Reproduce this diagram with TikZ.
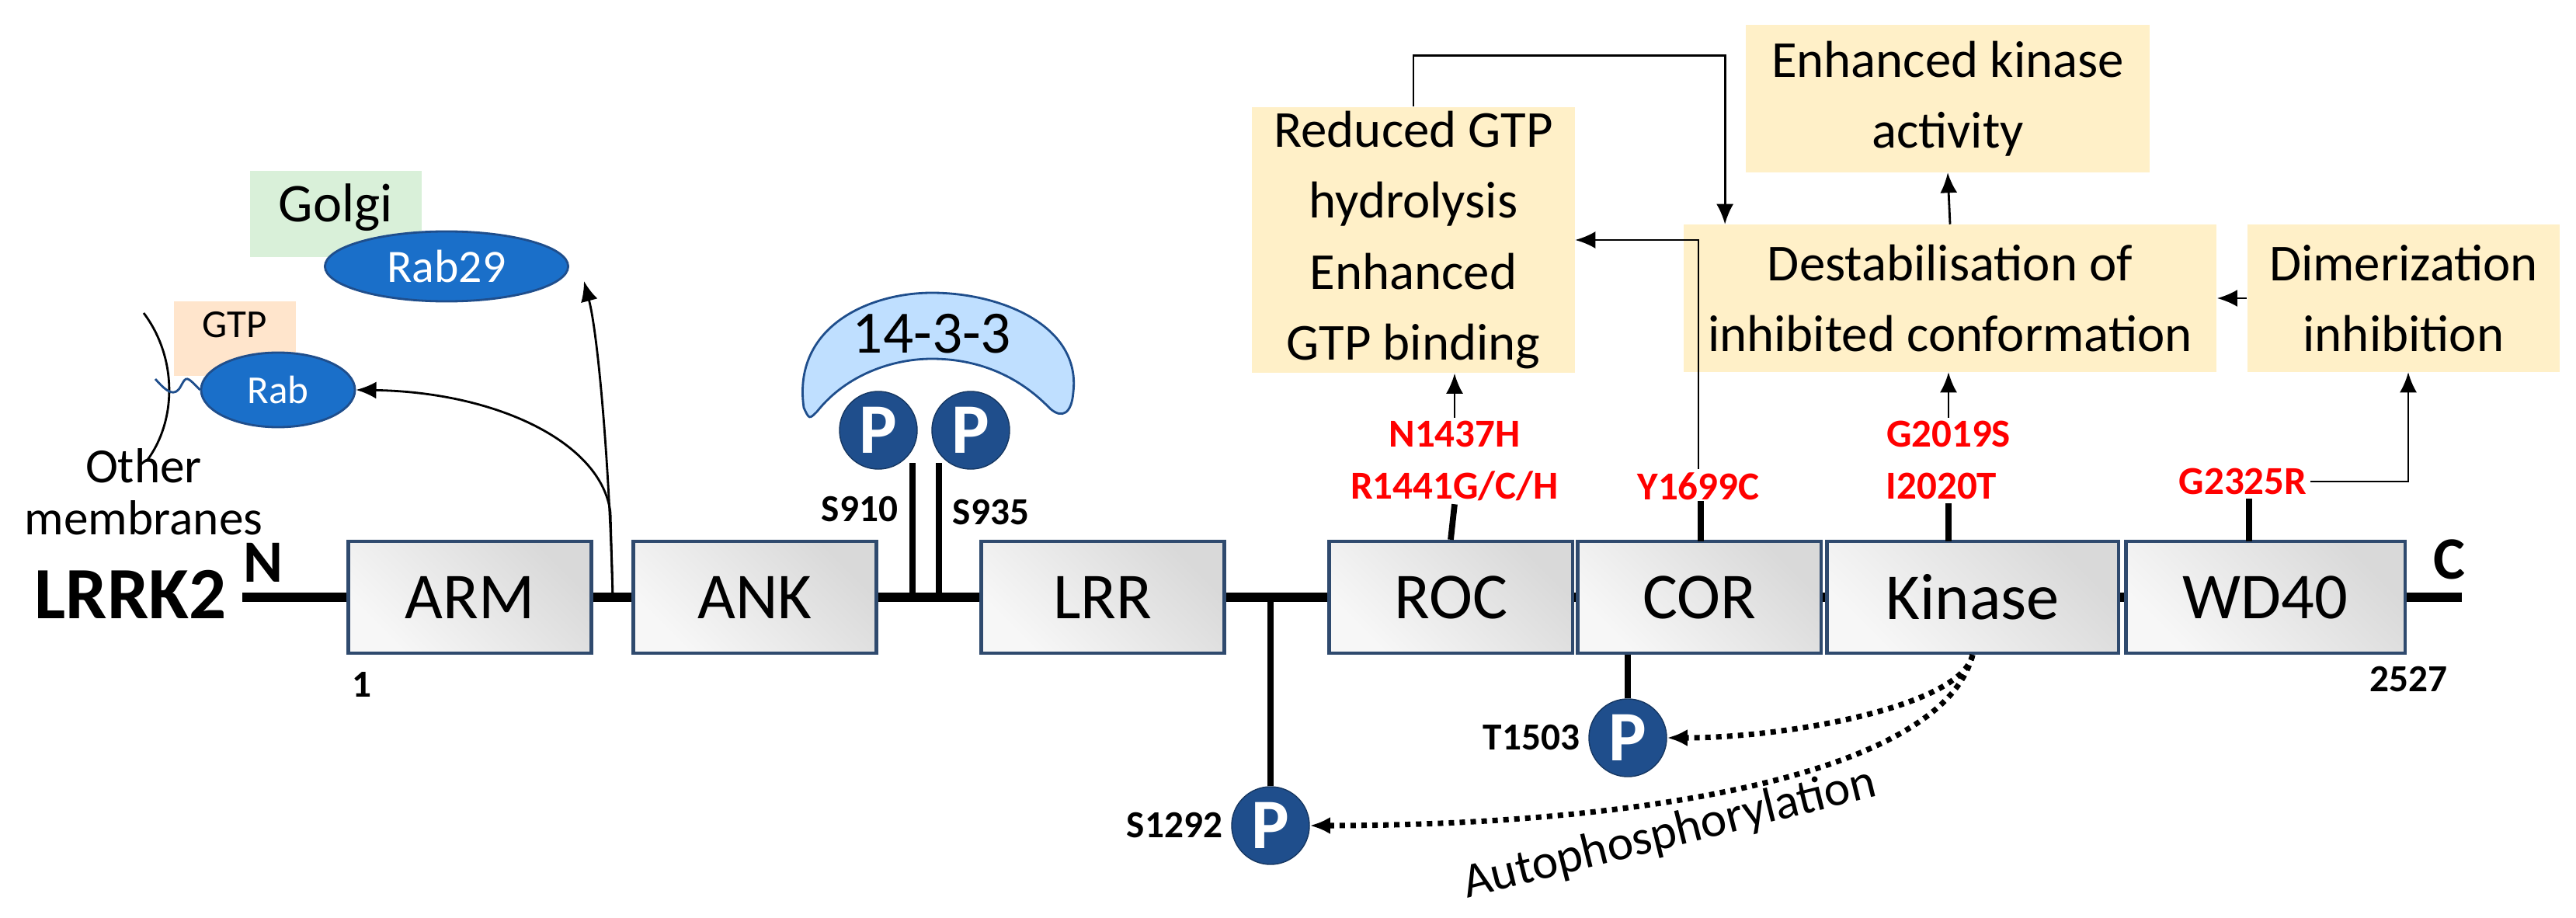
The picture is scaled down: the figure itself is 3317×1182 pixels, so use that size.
\documentclass[tikz,border=0pt]{standalone}
\usepackage{fontspec}
\setmainfont{Carlito}
\usetikzlibrary{arrows.meta,positioning,shapes.geometric,calc}
\definecolor{pblue}{HTML}{1F4E8C}
\definecolor{rblue}{HTML}{1A6FC9}
\definecolor{eff}{HTML}{FFF0C8}
\definecolor{edge}{HTML}{2F4A6E}
\begin{document}
\begin{tikzpicture}[
  x=0.01cm,y=-0.01cm,
  >={Latex[length=2.6mm,width=2.2mm]},
  dom/.style={draw=edge,line width=1.2pt,left color=gray!30,right color=gray!6,
    shading angle=-45,minimum width=3.13cm,minimum height=1.44cm,inner sep=0pt,
    font=\fontsize{24}{28}\selectfont},
  effb/.style={fill=eff,align=center,inner sep=0pt,font=\fontsize{19}{26}\selectfont},
  mut/.style={text=red,font=\bfseries\fontsize{14.5}{17}\selectfont,inner sep=1pt},
  pho/.style={circle,fill=pblue,draw=pblue!70!black,minimum size=1cm,inner sep=0pt,
    text=white,font=\bfseries\fontsize{26}{26}\selectfont},
  site/.style={font=\bfseries\fontsize{14}{16}\selectfont,inner sep=1pt},
  tick/.style={line width=2.2pt},
  arr/.style={thick,->}
]
\useasboundingbox (0,0) rectangle (3317,1182);

% backbone
\node[font=\bfseries\fontsize{27}{30}\selectfont] (lrrk) at (168,765) {LRRK2};
\node[font=\bfseries\fontsize{22}{24}\selectfont] (nt) at (339,724) {N};
\node[font=\bfseries\fontsize{22}{24}\selectfont] (ct) at (3154,720) {C};
\coordinate (ls) at (312,769);
\coordinate (le) at (3170,769);
\draw[line width=3.5pt] (ls) -- (le);
\node[dom] (arm) at (605,769) {ARM};
\node[dom] (ank) at (972,769) {ANK};
\node[dom] (lrr) at (1420,769) {LRR};
\node[dom] (roc) at (1868,769) {ROC};
\node[dom] (cor) at (2188,769) {COR};
\node[dom,minimum width=3.75cm] (kin) at (2540,769) {Kinase};
\node[dom,minimum width=3.59cm] (wd) at (2917,769) {WD40};
\node[site] at (466,882) {1};
\node[site] at (3101,875) {2527};

% membranes and Rab
\node[fill=green!60!black!15,minimum width=2.21cm,minimum height=1.11cm,inner sep=0pt,
  font=\fontsize{20}{22}\selectfont,anchor=north west] (golgi) at (321,219) {\raisebox{8pt}{Golgi}};
\node[ellipse,fill=rblue,draw=pblue,thick,minimum width=3.13cm,minimum height=0.9cm,inner sep=0pt,
  text=white,font=\fontsize{17}{20}\selectfont] (rab29) at (575,343) {Rab29};
\node[fill=orange!20,minimum width=1.57cm,minimum height=0.96cm,inner sep=0pt,anchor=north west,
  font=\fontsize{14.5}{16}\selectfont] (gtp) at (223,387) {\raisebox{10pt}{GTP}};
\node[ellipse,fill=rblue,draw=pblue,thick,minimum width=1.98cm,minimum height=0.96cm,inner sep=0pt,
  text=white,font=\fontsize{14.5}{16}\selectfont] (rab) at (358,502) {Rab};
\draw[thick] (185,403) .. controls (228,460) and (228,540) .. (190,592);
\draw[pblue,thick] (200,488) .. controls (215,505) and (225,512) .. (233,497) .. controls (240,484) .. (rab.west);
\node[align=center,font=\fontsize{18}{19}\selectfont] (memb) at (185,633) {Other\\membranes};
\coordinate (rp) at (789,769);
\draw[arr] (rp) .. controls (785,600) and (770,430) .. (752,362);
\draw[arr] (rp) -- (786,660) .. controls (775,570) and (640,505) .. (rab.east);

% 14-3-3 and S910/S935
\draw[tick] (1175,769) -- (1175,596);
\draw[tick] (1209,769) -- (1209,596);
\draw[draw=pblue,thick,fill=blue!50!cyan!25]
  (1035,525) .. controls (1020,420) and (1120,377) .. (1200,377)
  .. controls (1290,377) and (1392,420) .. (1382,505)
  .. controls (1380,532) and (1368,540) .. (1352,526)
  .. controls (1300,472) and (1240,462) .. (1200,462)
  .. controls (1150,462) and (1090,482) .. (1052,530)
  .. controls (1042,540) .. cycle;
\node[font=\fontsize{22}{24}\selectfont] (f1433) at (1200,430) {14-3-3};
\node[pho] (p910) at (1131,554) {P};
\node[pho] (p935) at (1250,554) {P};
\node[site] at (1107,656) {S910};
\node[site] at (1276,660) {S935};

% autophosphorylation sites
\node[pho] (p1292) at (1636,1063) {P};
\node[site,left=2pt of p1292] {S1292};
\draw[tick] (p1292.north) -- (p1292.north |- ls);
\node[pho] (p1503) at (2096,950) {P};
\node[site,left=2pt of p1503] {T1503};
\draw[tick] (p1503.north) -- (p1503.north |- cor.south);
\draw[dotted,line width=2pt,->] (kin.south) .. controls (2525,910) and (2300,950) .. (p1503.east);
\draw[dotted,line width=2pt,->] (kin.south) .. controls (2500,1000) and (2100,1063) .. (p1292.east);
\node[rotate=14,font=\fontsize{18}{20}\selectfont] at (2150,1074) {Autophosphorylation};

% mutations
\node[mut] (n1437) at (1873,559) {N1437H};
\node[mut] (r1441) at (1873,626) {R1441G/C/H};
\node[mut] (y1699) at (2187,626) {Y1699C};
\node[mut] (g2019) at (2509,559) {G2019S};
\node[mut] (i2020) at (2500,626) {I2020T};
\node[mut] (g2325) at (2888,620) {G2325R};
\draw[tick] (roc.north) -- (r1441.south);
\draw[tick] (2190,697) -- (2190,645);
\draw[tick] (2509,697) -- (2509,648);
\draw[tick] (2896,697) -- (2896,642);

% effects
\node[effb,minimum width=4.15cm,minimum height=3.42cm] (red) at (1820,309) {Reduced GTP\\hydrolysis\\Enhanced\\GTP binding};
\node[effb,minimum width=6.86cm,minimum height=1.89cm] (des) at (2511,384) {Destabilisation of\\inhibited conformation};
\node[effb,minimum width=5.2cm,minimum height=1.89cm] (kact) at (2508,127) {Enhanced kinase\\activity};
\node[effb,minimum width=4.02cm,minimum height=1.89cm] (dim) at (3095,384) {Dimerization\\inhibition};
\draw[arr] (n1437.north) -- (n1437.north |- red.south);
\draw[arr] (y1699.north) |- (red.east);
\draw[arr] (red.north) -- ++(0,-66) -| ([xshift=0.54cm]des.north west);
\draw[arr] (g2019.north) -- (g2019.north |- des.south);
\draw[arr] (des.north) -- (kact.south);
\draw[arr] (dim.west) -- (des.east);
\draw[arr] (g2325.east) -| ([xshift=0.06cm]dim.south);
\end{tikzpicture}
\end{document}
